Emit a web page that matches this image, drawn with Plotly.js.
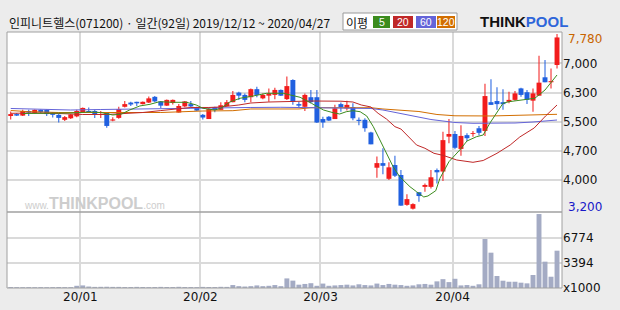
<!DOCTYPE html>
<html><head><meta charset="utf-8">
<script src="https://cdn.plot.ly/plotly-3.0.1.min.js"></script>
<style>html,body{margin:0;padding:0;background:#ececec;}#c{width:620px;height:310px;}</style>
</head><body><div id="c"></div>
<script>
const headerText = "인피니트헬스(071200) · 일간(92일) 2019/12/12 ~ 2020/04/27";
const maNames = ["5","20","60","120"];
const monthIdx = [12, 32, 52, 74];
const monthLabels = ["20/01","20/02","20/03","20/04"];
const priceGridVals = [7015, 6253, 5496, 4726, 3962];
const priceTickText = ["7,000","6,300","5,500","4,700","4,000"];
const priceMaxLabel = "7,780";
const priceMinLabel = "3,200";
const volTickVals = [0, 3394, 6774];
const volTickText = ["x1000","3394","6774"];

const openP = [5640,5690,5650,5770,5720,5800,5800,5730,5670,5540,5580,5630,5740,5770,5770,5720,5720,5520,5590,5880,
5990,6010,5950,5990,6140,6020,5910,5980,5730,5890,5950,5860,5670,5560,5870,5800,5900,6000,6250,6190,
6130,6340,6100,6170,6190,6320,6080,6580,5950,5880,6130,6130,5560,5620,5560,5950,5840,5870,5540,5540,
5210,4290,4410,4000,4360,4100,3320,3220,3650,3790,3790,4230,4190,5100,5170,4780,5140,5170,5320,5250,
6000,6030,6000,6010,6060,6360,6260,6040,6170,6650,6520,6970];
const highP = [5760,5720,5800,5800,5810,5810,5810,5740,5700,5640,5690,5800,5860,5860,5800,5770,5730,5610,5880,6030,
6010,6010,6020,6150,6160,6030,6070,6070,5950,6030,6030,5880,5690,5850,5880,6000,6060,6290,6270,6230,
6360,6400,6230,6360,6380,6330,6670,6600,6010,6230,6320,6320,5620,5640,5930,5990,6040,5970,5600,5580,
5230,4580,4800,4430,4600,4230,3600,3360,3650,3880,4230,4270,5230,5560,5250,5400,5190,5250,5380,6480,
6600,6390,6340,6270,6290,6380,6320,6360,7210,7100,6880,7780];
const lowP = [5550,5640,5640,5640,5700,5720,5640,5600,5470,5510,5560,5610,5720,5720,5590,5590,5330,5500,5570,5860,
5900,5900,5940,5980,6000,5850,5900,5940,5730,5870,5870,5770,5550,5560,5740,5800,5900,6000,6060,6000,
6000,6130,6080,6010,6080,6160,6060,5930,5840,5770,5970,5460,5330,5510,5560,5750,5780,5530,5400,5230,
4900,4030,4120,3970,4050,3300,3300,3200,3400,3660,3750,3880,3940,4930,4770,4600,4990,5100,5140,5120,
5930,5800,5800,5970,6040,6140,5950,5750,6170,6520,6360,6880];
const closeP = [5690,5650,5770,5730,5800,5740,5690,5670,5590,5610,5680,5770,5850,5740,5680,5740,5380,5550,5820,5950,
5940,5970,6010,6100,6020,5910,6060,6060,5900,6020,5890,5780,5600,5820,5800,5920,6000,6190,6170,6060,
6340,6190,6190,6230,6320,6170,6420,6010,5910,6190,6000,5470,5470,5520,5840,5870,5930,5580,5510,5320,
4900,4410,4340,4300,4080,3300,3470,3340,3550,3840,4040,4170,5010,5170,4810,5120,5060,5190,5200,6160,
5930,5950,5950,6060,6230,6190,6060,6230,6510,6520,6550,7690];
const volume = [130,120,110,120,110,120,110,120,130,120,
120,300,350,200,150,160,170,150,150,130,
130,150,140,120,130,150,140,130,160,140,
130,120,150,140,130,160,150,400,250,200,
250,350,250,300,400,250,1300,1000,450,550,
650,300,600,300,350,400,450,350,500,400,
350,600,400,550,450,400,300,350,500,550,
450,900,1200,800,1250,350,400,300,500,6640,
4790,1630,990,850,850,720,630,1760,10030,3570,
1530,5060];

const ma5X = [2,6,10,13,15,17,18.5,19.8,21.5,23.2,24.8,27,29.3,30.9,32,34,35,36.5,38.2,40.4,42.6,45.4,47.1,48.2,50.1,52.1,53.7,54.8,55.9,57,58.2,59.3,60.4,61.5,62.6,63.7,64.8,66.5,67.6,68.8,69.5,70.8,71.5,73,74.8,76,77.6,78.7,79.8,81,82,83,84,85.7,87.3,89,90,91];
const ma5 = [5705,5705,5718,5744,5731,5666,5692,5796,5901,5945,6013,5997,5997,5927,5841,5796,5841,6005,6102,6162,6232,6232,6170,6128,5971,5796,5726,5692,5752,5778,5752,5640,5361,5013,4666,4316,4055,3794,3664,3526,3552,3690,4014,4447,4752,4987,5100,5144,5449,5752,5971,6013,6031,6057,6102,6318,6509,6710];
const ma20X = [0,4,8,12,16,19,22,25,28,30,33,35,38,40,43,46,50,55,57,58.4,60,61.2,62.6,64,65,66.8,67.6,69,70.5,72.1,74.3,77,78.7,81,83.2,84.8,87.2,89.1,90.7,91];
const ma20 = [5710,5718,5705,5679,5679,5705,5731,5781,5823,5862,5862,5875,5927,5979,6005,6018,6031,6026,6005,5927,5875,5710,5560,5361,5300,5013,4883,4797,4666,4609,4491,4431,4478,4666,4883,5092,5327,5640,5888,5927];
const ma60X = [0,5,10,15,20,25,30,35,40,45,50,55,60,62,64,66,68,70,72,74,77,80,84,87,89,91];
const ma60 = [5836,5823,5796,5809,5823,5836,5849,5856,5862,5867,5862,5856,5836,5796,5731,5666,5601,5548,5509,5470,5449,5449,5457,5483,5509,5535];
const ma120X = [0,3,8,15,25,32,37,40,48,50,60,62,65,68,71,74,80,85,88,91];
const ma120 = [5783,5752,5731,5726,5731,5770,5778,5823,5823,5856,5856,5823,5783,5757,5679,5645,5640,5653,5679,5684];

const UP = '#f21c1c', DOWN = '#2060e0';
const MA_COL = ['#3c8c1e', '#c02828', '#6464d8', '#d26e00'];
const idx = closeP.map((_, i) => i);
const isUp = closeP.map((c, i) => c >= openP[i]);
const candleCol = isUp.map(u => u ? UP : DOWN);

const PX = x => (x - 7) / 555;
const PY = y => (288 - y) / 256;

const traces = [
  {type:'bar', x: idx, base: lowP, y: highP.map((h, i) => h - lowP[i]), width: 0.17,
   marker:{color: candleCol, line:{width:0}}, xaxis:'x', yaxis:'y', hoverinfo:'skip'},
  {type:'bar', x: idx, base: openP.map((o, i) => Math.min(o, closeP[i])),
   y: openP.map((o, i) => Math.max(Math.abs(closeP[i] - o), 22)), width: 0.82,
   marker:{color: candleCol, line:{width:0}}, xaxis:'x', yaxis:'y', hoverinfo:'skip'},
  {type:'scatter', mode:'lines', x: ma120X, y: ma120, line:{color: MA_COL[3], width:1}, xaxis:'x', yaxis:'y'},
  {type:'scatter', mode:'lines', x: ma60X, y: ma60, line:{color: MA_COL[2], width:1}, xaxis:'x', yaxis:'y'},
  {type:'scatter', mode:'lines', x: ma20X, y: ma20, line:{color: MA_COL[1], width:1}, xaxis:'x', yaxis:'y'},
  {type:'scatter', mode:'lines', x: ma5X, y: ma5, line:{color: MA_COL[0], width:1}, xaxis:'x', yaxis:'y'},
  {type:'bar', x: idx, y: volume, width: 0.82, marker:{color:'#a4abc4', line:{width:0}}, xaxis:'x', yaxis:'y2', hoverinfo:'skip'}
];

const numFont = {family:'DejaVu Sans, sans-serif', size:12, color:'#111'};
const annotations = [
  {xref:'paper', yref:'paper', x: PX(7), y: PY(22), xanchor:'left', yanchor:'middle', showarrow:false,
   text: headerText, font:{family:'Noto Sans CJK KR, sans-serif', size:12, color:'#111'}},
  {xref:'paper', yref:'paper', x: PX(357), y: PY(22), xanchor:'center', yanchor:'middle', showarrow:false,
   text:'이평', font:{family:'Noto Sans CJK KR, sans-serif', size:12, color:'#111'}},
  {xref:'paper', yref:'paper', x: 1, xshift: 4, y: PY(39), xanchor:'left', yanchor:'middle', showarrow:false,
   text: priceMaxLabel, font:{family:numFont.family, size:12, color:'#c86400'}},
  {xref:'paper', yref:'paper', x: 1, xshift: 4, y: PY(207), xanchor:'left', yanchor:'middle', showarrow:false,
   text: priceMinLabel, font:{family:numFont.family, size:12, color:'#1818c8'}},
  {xref:'paper', yref:'paper', x: PX(524), y: PY(21), xanchor:'center', yanchor:'middle', showarrow:false,
   text:'<b>THINK</b><b><span style="color:#2f66da">POOL</span></b>',
   font:{family:'Liberation Sans, Arial, sans-serif', size:15, color:'#111'}},
  {xref:'paper', yref:'paper', x: PX(22), y: PY(203), xanchor:'left', yanchor:'middle', showarrow:false,
   text:'www.<span style="font-size:16px"><b>THINKPOOL</b></span>.com',
   font:{family:'Liberation Sans, Arial, sans-serif', size:10, color:'#cdcdcd'}}
];
const boxes = [[373,390],[393,413],[416,436],[437,455]];
const shapes = [
  {type:'rect', xref:'paper', yref:'paper', x0: PX(343), x1: PX(457), y0: PY(30), y1: PY(13),
   line:{color:'#9a9a9a', width:1}, fillcolor:'#ffffff', layer:'below'}
];
boxes.forEach((b, k) => {
  shapes.push({type:'rect', xref:'paper', yref:'paper', x0: PX(b[0]), x1: PX(b[1]), y0: PY(28), y1: PY(16),
    line:{width:0}, fillcolor: MA_COL[k]});
  annotations.push({xref:'paper', yref:'paper', x: PX((b[0]+b[1])/2), y: PY(22), xanchor:'center', yanchor:'middle',
    showarrow:false, text: maNames[k], font:{family:'Liberation Sans, Arial, sans-serif', size:10.5, color:'#ffffff'}});
});
shapes.push({type:'rect', xref:'paper', yref:'paper', x0:0, x1:1, y0:0, y1:1, line:{color:'#a0a0a0', width:1}});
shapes.push({type:'line', xref:'paper', yref:'paper', x0:0, x1:1, y0: PY(212), y1: PY(212), line:{color:'#a0a0a0', width:1.5}});

const layout = {
  width: 620, height: 310,
  margin: {l:7, r:58, t:32, b:22},
  paper_bgcolor:'#ececec', plot_bgcolor:'#ffffff',
  showlegend:false, barmode:'overlay',
  xaxis: {domain:[0,1], range:[-0.62, 91.83], anchor:'y2', tickvals: monthIdx.map(i => i - 0.4), ticktext: monthLabels,
          showgrid:true, gridcolor:'#dadada', gridwidth:2, zeroline:false, showline:false, ticks:'',
          tickfont: numFont, fixedrange:true},
  yaxis: {domain:[PY(212), 1], range:[3134, 7832], side:'right', anchor:'x', tickvals: priceGridVals, ticktext: priceTickText,
          showgrid:true, gridcolor:'#dadada', gridwidth:2, zeroline:false, showline:false, ticks:'',
          tickfont: numFont, fixedrange:true},
  yaxis2: {domain:[0, PY(212)], range:[0, 10306], side:'right', anchor:'x', tickvals: volTickVals, ticktext: volTickText,
          showgrid:true, gridcolor:'#dadada', gridwidth:2, zeroline:false, showline:false, ticks:'',
          tickfont: numFont, fixedrange:true},
  annotations: annotations,
  shapes: shapes
};
Plotly.newPlot('c', traces, layout, {staticPlot:true, displayModeBar:false});
</script></body></html>
